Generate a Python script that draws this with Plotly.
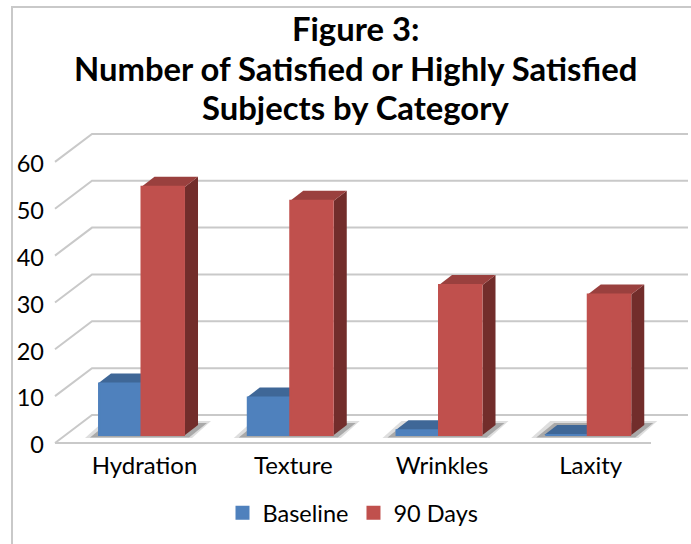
import plotly.graph_objects as go

categories = ["Hydration", "Texture", "Wrinkles", "Laxity"]
baseline = [11, 8, 1, 0]
ninety_days = [53, 50, 32, 30]
y_ticks = [0, 10, 20, 30, 40, 50, 60]

title_lines = ["Figure 3:", "Number of Satisfied or Highly Satisfied", "Subjects by Category"]
title_centres = [29, 68, 107]
FONT = "Lato, Carlito, Calibri, sans-serif"

WIDTH, HEIGHT = 691, 544
# plot area in pixels, a little larger than the walls so that no line is clipped
LEFT, RIGHT, TOP, BOTTOM = 50, 691, 126, 448
FLOOR_LEFT, WALL_RIGHT, FLOOR_Y = 55, 688, 443
UNIT = 4.685            # pixels per value unit
PITCH = 148.75          # pixels per category
x0 = 141.5              # centre of the first pair of bars


def px_x(dx):
    return dx / PITCH


def px_y(dy):
    return dy / UNIT


# Oblique projection offsets, in axis units
WALL_DX, WALL_DY = px_x(37), px_y(28)
BAR_DX, BAR_DY = px_x(13), px_y(10)
BAR_LIFT = px_y(8)      # bars stand inside the floor, above its front edge
GROUP = 0.585           # share of a category taken by the pair of bars

x_range = [(LEFT - x0) / PITCH, (RIGHT - x0) / PITCH]
y_range = [-(BOTTOM - FLOOR_Y) / UNIT, (FLOOR_Y - TOP) / UNIT]
wall_left = (FLOOR_LEFT - x0) / PITCH
wall_right = (WALL_RIGHT - x0) / PITCH


def poly(points, fill, yref="y"):
    path = "M " + " L ".join(f"{x},{y}" for x, y in points) + " Z"
    return dict(type="path", path=path, xref="x", yref=yref, fillcolor=fill,
                line=dict(width=0), layer="below")


shapes = []
GRID = dict(color="#c9c9c9", width=2)

# back wall and left wall gridlines
for v in y_ticks:
    xs = [wall_left, wall_left + WALL_DX, wall_right]
    ys = [v, v + WALL_DY, v + WALL_DY]
    path = "M " + " L ".join(f"{a},{b}" for a, b in zip(xs, ys))
    shapes.append(dict(type="path", path=path, xref="x", yref="y", line=GRID, layer="below"))

# front edge of the floor
shapes.append(dict(type="line", xref="x", yref="y", x0=wall_left, y0=0,
                   x1=wall_right - WALL_DX, y1=0, line=GRID, layer="below"))

half = GROUP / 2

# soft floor shadow behind each pair of bars: outer halo, then darker core
shadow_layers = [(13, 7, 3, 14, 19, "#dedede"), (8, 4, 2.5, 12, 18, "#a9a9a9")]
for i in range(len(categories)):
    for out_l, out_r, below, above, slant, colour in shadow_layers:
        l, r = i - half - px_x(out_l), i + half + px_x(out_r)
        lo, hi = -px_y(below), px_y(above)
        k = px_x(slant)
        shapes.append(poly([(l, lo), (r, lo), (r + k, hi), (l + k, hi)], colour, "y2"))

# top and side faces of every bar, taken from the same values as the fronts
faces = [(baseline, -half, 0.0, "#3f6797", "#2f4d70"),
         (ninety_days, 0.0, half, "#9a403e", "#722d2b")]
for values, a, b, top_col, side_col in faces:
    for i, v in enumerate(values):
        l, r = i + a, i + b
        shapes.append(poly([(r, 0), (r + BAR_DX, BAR_DY), (r + BAR_DX, v + BAR_DY), (r, v)], side_col, "y2"))
        shapes.append(poly([(l, v), (r, v), (r + BAR_DX, v + BAR_DY), (l + BAR_DX, v + BAR_DY)], top_col, "y2"))

# chart frame
plot_w, plot_h = RIGHT - LEFT, BOTTOM - TOP
shapes.append(dict(type="rect", xref="paper", yref="paper",
                   x0=(12 - LEFT) / plot_w, x1=(720 - LEFT) / plot_w,
                   y0=(BOTTOM - 580) / plot_h, y1=(BOTTOM - 7) / plot_h,
                   line=dict(color="#c9c9c9", width=2), fillcolor="rgba(0,0,0,0)", layer="below"))

# three-line heading with tight leading
annotations = [
    dict(text=f"<b>{line}</b>", xref="paper", yref="paper",
         x=(355 - LEFT) / plot_w, y=(BOTTOM - c) / plot_h,
         xanchor="center", yanchor="middle", showarrow=False,
         font=dict(family=FONT, size=32.8, color="#000000"))
    for line, c in zip(title_lines, title_centres)
]

fig = go.Figure()
fig.add_bar(name="Baseline", x=categories, y=baseline, yaxis="y2",
            marker=dict(color="#4f81bd", line=dict(color="#4f81bd", width=2)))
fig.add_bar(name="90 Days", x=categories, y=ninety_days, yaxis="y2",
            marker=dict(color="#c0504d", line=dict(color="#c0504d", width=2)))

fig.update_layout(
    width=WIDTH, height=HEIGHT,
    margin=dict(l=LEFT, r=WIDTH - RIGHT, t=TOP, b=HEIGHT - BOTTOM, pad=0),
    paper_bgcolor="white", plot_bgcolor="white",
    font=dict(family=FONT, size=24, color="#000000"),
    barmode="group", bargap=1 - GROUP + 0.014, bargroupgap=0,
    xaxis=dict(type="category", categoryorder="array", categoryarray=categories,
               range=x_range, showgrid=False, showline=False, zeroline=False,
               ticks="", ticklabelstandoff=1, ticklabelshift=3, tickfont=dict(size=24)),
    yaxis=dict(range=y_range, tickvals=y_ticks, showgrid=False, showline=False,
               zeroline=False, ticks="", ticklabelstandoff=5, ticklabelshift=2,
               tickfont=dict(size=23.5)),
    yaxis2=dict(range=[y_range[0] - BAR_LIFT, y_range[1] - BAR_LIFT], overlaying="y", visible=False),
    legend=dict(orientation="h", x=353 / WIDTH, xanchor="center", xref="container",
                y=1 - 513 / HEIGHT, yanchor="middle", yref="container",
                font=dict(size=23.5), traceorder="normal"),
    shapes=shapes,
    annotations=annotations,
)

fig.write_html("out.html")
